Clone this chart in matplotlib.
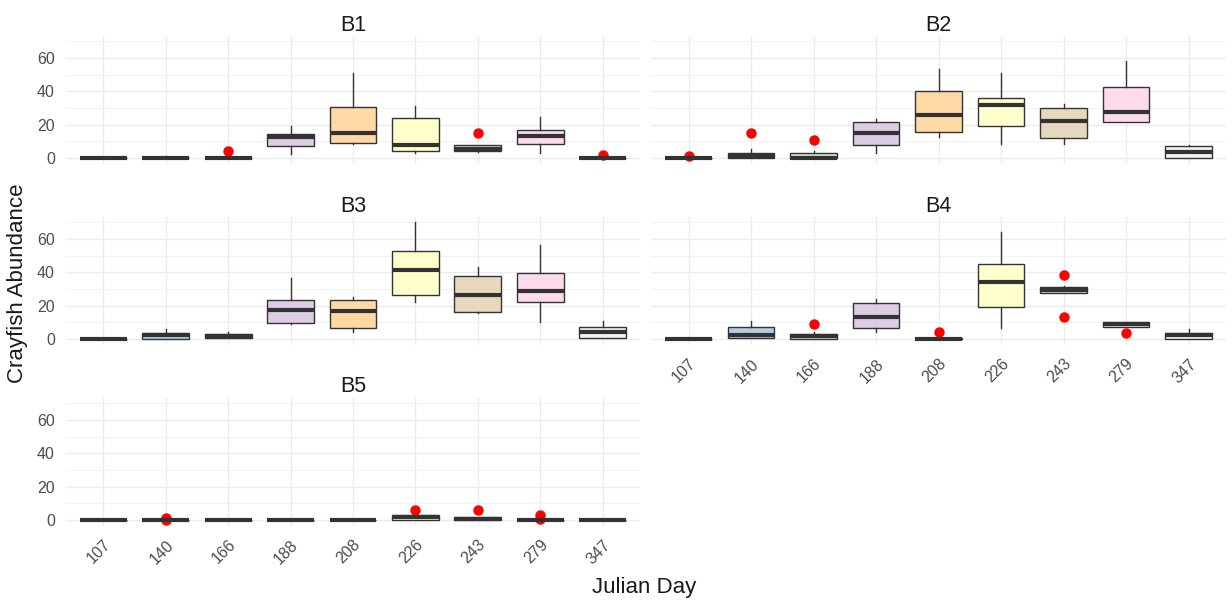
import matplotlib
matplotlib.use("Agg")
import matplotlib.pyplot as plt
from matplotlib.ticker import MultipleLocator

plt.rcParams['font.family'] = ['Liberation Sans', 'DejaVu Sans']

days = ["107", "140", "166", "188", "208", "226", "243", "279", "347"]
fills = ["#FBB4AE", "#B3CDE3", "#CCEBC5", "#DECBE4", "#FED9A6",
         "#FFFFCC", "#E5D8BD", "#FDDAEC", "#F2F2F2"]
panels = ["B1", "B2", "B3", "B4", "B5"]

# whisker low, q1, median, q3, whisker high, outliers
b1_lo  = [0, 0, 0, 2.4, 8.7, 3.2, 3.4, 3.0, 0]
b1_q1  = [0, 0, 0, 7.4, 9.0, 4.0, 4.0, 8.2, 0]
b1_med = [0, 0, 0, 12.7, 15.3, 7.6, 5.6, 13.3, 0]
b1_q3  = [0, 0, 0, 14.3, 30.8, 24.3, 7.6, 16.7, 0]
b1_hi  = [0, 1, 0, 19.0, 51.3, 31.2, 8.0, 24.5, 0]
b1_out = [[], [], [4.4], [], [], [], [15.0], [], [2.0]]

b2_lo  = [0, 0.2, 0, 3.2, 12.5, 8.2, 8.2, 21.5, 0]
b2_q1  = [0, 0.2, 0, 7.6, 15.7, 19.3, 11.9, 21.5, 0]
b2_med = [0, 1.4, 0, 15.0, 26.0, 31.6, 22.5, 27.6, 3.6]
b2_q3  = [0, 2.8, 2.8, 21.7, 40.2, 35.8, 30.0, 42.5, 7.0]
b2_hi  = [0, 5.2, 4.4, 23.5, 53.5, 50.9, 32.6, 58.4, 7.8]
b2_out = [[1.0], [15.0], [10.9], [], [], [], [], [], []]

b3_lo  = [0, 0, 0.8, 8.8, 4.0, 22.0, 15.6, 10.4, 0.8]
b3_q1  = [0, 0, 0.8, 9.6, 6.8, 26.2, 16.4, 22.2, 0.8]
b3_med = [0, 2.6, 1.8, 17.6, 16.6, 41.2, 26.6, 29.0, 4.0]
b3_q3  = [0, 3.6, 2.8, 23.4, 23.2, 53.0, 38.0, 39.6, 7.0]
b3_hi  = [0, 6.2, 4.4, 36.8, 25.0, 70.0, 43.2, 56.4, 11.0]
b3_out = [[], [], [], [], [], [], [], [], []]

b4_lo  = [0, 0.8, 0, 4.0, 0, 6.4, 27.8, 7.4, 0]
b4_q1  = [0, 0.8, 0, 6.6, 0, 19.0, 27.8, 7.4, 0]
b4_med = [0, 2.4, 1.6, 13.4, 0, 34.0, 29.4, 8.8, 2.4]
b4_q3  = [0, 7.0, 2.8, 21.4, 0.8, 45.3, 31.0, 10.0, 3.6]
b4_hi  = [0, 11.0, 4.4, 24.2, 0.8, 64.5, 31.8, 10.0, 6.2]
b4_out = [[], [], [9.2], [], [4.4], [], [38.7, 13.2], [3.4], []]

b5_lo  = [0, 0, 0, 0, 0, 0, 0, 0, 0]
b5_q1  = [0, 0, 0, 0, 0, 0, 0, 0, 0]
b5_med = [0, 0, 0, 0, 0, 1.8, 0.6, 0, 0]
b5_q3  = [0, 0, 0, 0, 0, 3.2, 2.0, 0, 0]
b5_hi  = [0, 0, 0, 0, 0, 3.2, 2.0, 0, 0]
b5_out = [[], [1.5, 0.0], [], [], [], [6.2], [6.2], [2.8, 0.5], []]

panel_data = {
    "B1": (b1_lo, b1_q1, b1_med, b1_q3, b1_hi, b1_out),
    "B2": (b2_lo, b2_q1, b2_med, b2_q3, b2_hi, b2_out),
    "B3": (b3_lo, b3_q1, b3_med, b3_q3, b3_hi, b3_out),
    "B4": (b4_lo, b4_q1, b4_med, b4_q3, b4_hi, b4_out),
    "B5": (b5_lo, b5_q1, b5_med, b5_q3, b5_hi, b5_out),
}

W, H = 1232, 604
fig = plt.figure(figsize=(W / 100, H / 100), dpi=100)

# panel rectangles in pixel units (left, top, right, bottom)
rects = {
    "B1": (66, 35.5, 640, 164),
    "B2": (651, 35.5, 1226, 164),
    "B3": (66, 216.5, 640, 345),
    "B4": (651, 216.5, 1226, 345),
    "B5": (66, 397.5, 640, 526),
}

edge = "#333333"
for name in panels:
    l, t, r, b = rects[name]
    ax = fig.add_axes([l / W, 1 - b / H, (r - l) / W, (b - t) / H])
    lo, q1, med, q3, hi, out = panel_data[name]
    stats = []
    for i in range(len(days)):
        stats.append(dict(whislo=lo[i], q1=q1[i], med=med[i], q3=q3[i],
                          whishi=hi[i], fliers=out[i]))
    bp = ax.bxp(stats, positions=range(len(days)), widths=0.75,
                showcaps=False, patch_artist=True,
                boxprops=dict(edgecolor=edge, linewidth=1.0),
                whiskerprops=dict(color=edge, linewidth=1.0),
                medianprops=dict(color=edge, linewidth=3.0, solid_capstyle='butt'),
                flierprops=dict(marker='o', markerfacecolor='red',
                                markeredgecolor='red', markersize=6.5),
                zorder=3)
    for patch, c in zip(bp['boxes'], fills):
        patch.set_facecolor(c)
    ax.set_xlim(-0.6, len(days) - 0.4)
    ax.set_ylim(-3.5, 73.5)
    ax.yaxis.set_major_locator(MultipleLocator(20))
    ax.yaxis.set_minor_locator(MultipleLocator(10))
    ax.set_xticks(range(len(days)))
    ax.grid(True, which='major', color='#EBEBEB', linewidth=1.0, zorder=0)
    ax.grid(True, which='minor', axis='y', color='#F2F2F2', linewidth=0.7, zorder=0)
    ax.set_axisbelow(True)
    for s in ax.spines.values():
        s.set_visible(False)
    ax.tick_params(which='both', length=0, labelsize=11.5, labelcolor='#4D4D4D')
    ax.tick_params(axis='y', pad=8)
    if name in ("B4", "B5"):
        ax.set_xticklabels(days, rotation=45, ha='right', va='top',
                           rotation_mode='anchor')
        ax.tick_params(axis='x', pad=8)
    else:
        ax.set_xticklabels([])
    if name in ("B2", "B4"):
        ax.set_yticklabels([])
    ax.set_title(name, fontsize=15.5, color='#1A1A1A', pad=3)

fig.text(644 / W, 1 - 587 / H, "Julian Day", ha='center', va='center',
         fontsize=16, color='#1A1A1A')
fig.text(18 / W, 1 - 283 / H, "Crayfish Abundance", ha='center', va='center',
         rotation=90, fontsize=16, color='#1A1A1A')

fig.savefig("out.png", dpi=100, facecolor='white')
